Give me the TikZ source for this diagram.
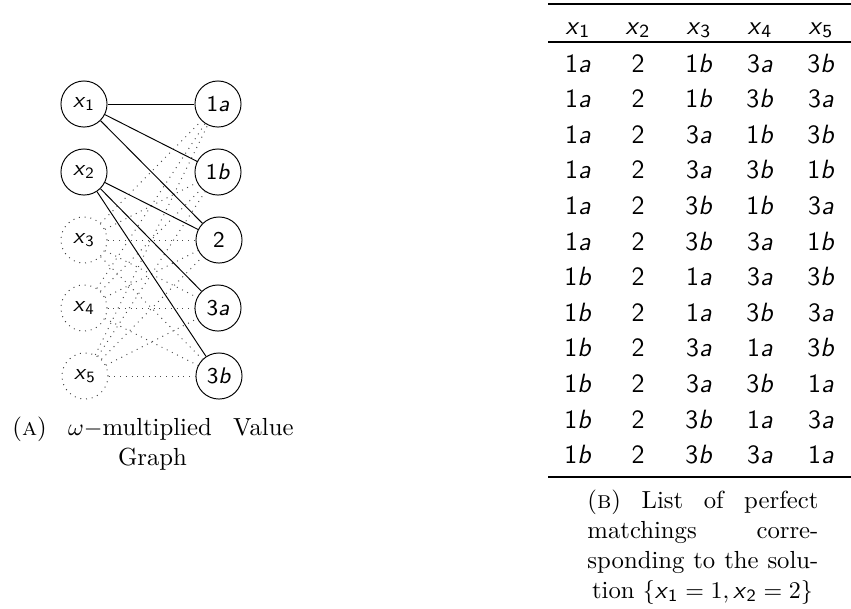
\documentclass[tikz,border=0pt]{standalone}
\usepackage{fontspec}
\newcommand{\vxx}[1]{\textsf{\textsl{x}}\textsubscript{\textsf{#1}}}
\newcommand{\vl}[2]{\textsf{#1\textsl{#2}}}
\begin{document}
\begin{tikzpicture}[x=0.4167pt,y=-0.4167pt,
  vert/.style={circle,draw=black,line width=0.4pt,minimum size=19.2pt,inner sep=0pt,font=\fontsize{9.4}{11}\selectfont},
  vdot/.style={vert,dotted,draw=black!75},
  soledge/.style={draw=black,line width=0.4pt},
  dotedge/.style={draw=black!70,line width=0.4pt,dotted},
  cell/.style={anchor=base,inner sep=0pt,font=\fontsize{11}{13}\selectfont},
  captext/.style={anchor=base west,inner sep=0pt,font=\fontsize{10.3}{12.4}\selectfont},
  captextc/.style={anchor=base,inner sep=0pt,font=\fontsize{10.3}{12.4}\selectfont},
  thickrule/.style={line width=0.85pt},
  thinrule/.style={line width=0.55pt}]
\useasboundingbox (0,0) rectangle (851,608);

% ---------- graph (A) ----------
\node[vert] (x1) at (84,104) {\vxx{1}};
\node[vert] (x2) at (84,172) {\vxx{2}};
\node[vdot] (x3) at (84,240) {\vxx{3}};
\node[vdot] (x4) at (84,308) {\vxx{4}};
\node[vdot] (x5) at (85,376) {\vxx{5}};
\node[vert] (v1a) at (218,104) {\vl{1}{a}};
\node[vert] (v1b) at (218,172) {\vl{1}{b}};
\node[vert] (v2)  at (219,240) {\vl{2}{}};
\node[vert] (v3a) at (218,308) {\vl{3}{a}};
\node[vert] (v3b) at (219,376) {\vl{3}{b}};

\foreach \s in {x3,x4,x5}
  \foreach \t in {v1a,v1b,v2,v3a,v3b}
    \draw[dotedge] (\s) -- (\t);

\draw[soledge] (x1) -- (v1a);
\draw[soledge] (x1) -- (v1b);
\draw[soledge] (x1) -- (v2);
\draw[soledge] (x2) -- (v2);
\draw[soledge] (x2) -- (v3a);
\draw[soledge] (x2) -- (v3b);

\node[captext] (capA1) at (12,435) {\makebox[117.1pt][s]{(\textsc{a}) $\omega-$multiplied Value}};
\node[captextc] (capA2) at (152.5,465) {Graph};

% ---------- table (B) ----------
\coordinate (tl) at (548,4);   \coordinate (tr) at (851,4);
\coordinate (ml) at (548,42);  \coordinate (mr) at (851,42);
\coordinate (bl) at (548,477); \coordinate (br) at (851,477);
\draw[thickrule] (tl) -- (tr);
\draw[thinrule] (ml) -- (mr);
\draw[thickrule] (bl) -- (br);

\foreach \c/\cx in {1/578,2/638,3/699,4/760,5/821}
  \node[cell] (h\c) at (\cx,34) {\vxx{\c}};

\foreach \a/\b/\c/\d/\e/\f/\g [count=\i from 0] in {
  a/1/b/3/a/3/b,
  a/1/b/3/b/3/a,
  a/3/a/1/b/3/b,
  a/3/a/3/b/1/b,
  a/3/b/1/b/3/a,
  a/3/b/3/a/1/b,
  b/1/a/3/a/3/b,
  b/1/a/3/b/3/a,
  b/3/a/1/a/3/b,
  b/3/a/3/b/1/a,
  b/3/b/1/a/3/a,
  b/3/b/3/a/1/a}
{
  \pgfmathsetmacro{\yy}{72+35.6*\i}
  \node[cell] (r\i c1) at (578,\yy) {\vl{1}{\a}};
  \node[cell] (r\i c2) at (638,\yy) {\vl{2}{}};
  \node[cell] (r\i c3) at (699,\yy) {\vl{\b}{\c}};
  \node[cell] (r\i c4) at (760,\yy) {\vl{\d}{\e}};
  \node[cell] (r\i c5) at (821,\yy) {\vl{\f}{\g}};
}

\node[captext] (capB1) at (587,508) {\makebox[96.25pt][s]{(\textsc{b}) List of perfect}};
\node[captext] (capB2) at (587,538) {\makebox[96.25pt][s]{matchings corre-}};
\node[captext] (capB3) at (587,568) {\makebox[96.25pt][s]{sponding to the solu-}};
\node[captextc] (capB4) at (702.5,598) {tion $\{$\vxx{1}${}=1,{}$\vxx{2}${}=2\}$};
\end{tikzpicture}
\end{document}
